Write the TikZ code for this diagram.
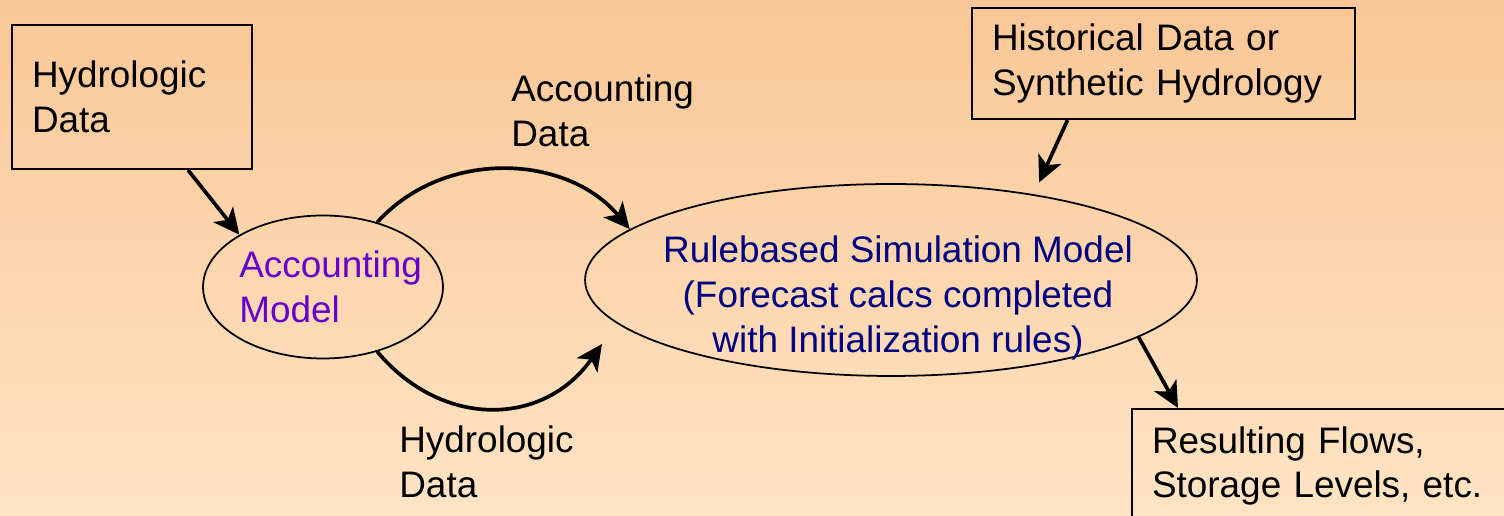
\documentclass[tikz,border=0pt]{standalone}
\usepackage{fontspec}
\setmainfont{Liberation Sans}
\usetikzlibrary{shapes.geometric,arrows.meta,calc}
\definecolor{bgtop}{RGB}{250,199,151}
\definecolor{bgbottom}{RGB}{255,228,196}
\definecolor{accpurple}{RGB}{102,0,204}
\definecolor{simnavy}{RGB}{0,0,128}
\begin{document}
\begin{tikzpicture}[x=0.02cm, y=0.02cm,
		databox/.style={draw, line width=1.2pt, anchor=north west, align=left, inner xsep=0.4cm, inner ysep=0pt, font=\fontsize{21}{25.5}\selectfont},
		model/.style={draw, ellipse, line width=1pt, inner sep=0pt},
		lbl/.style={anchor=west, align=left, inner sep=0pt, font=\fontsize{21}{25.5}\selectfont},
		flow/.style={line width=2.1pt, -{Stealth[length=0.52cm, width=0.5cm, inset=0.14cm]}}]
				\fill[top color=bgtop, bottom color=bgbottom] (0,0) rectangle (1504,516);
				\useasboundingbox (0,0) rectangle (1504,516);
				\clip (0,0) rectangle (1504,516);
				\node[databox, text width=4cm, minimum height=2.88cm] (hyd) at (11,492) {Hydrologic\\Data};
				\node[databox, text width=6.86cm, minimum height=2.22cm] (hist) at (971,509) {Historical Data or\\Synthetic Hydrology};
				\node[databox, text width=7.2cm, minimum height=2.28cm] (res) at (1131,108) {Resulting Flows,\\Storage Levels, etc.};
				\node[model, minimum width=4.8cm, minimum height=2.86cm] (acc) at (323,229) {};
				\node[lbl, text=accpurple] (acctxt) at (239,229) {Accounting\\Model};
				\node[model, minimum width=12.24cm, minimum height=3.84cm] (sim) at (891,236) {};
				\node[align=center, inner sep=0pt, text=simnavy, font=\fontsize{21}{25.5}\selectfont] (simtxt) at (898,218) {Rulebased Simulation Model\\(Forecast calcs completed\\with Initialization rules)};
				\node[lbl] (acclbl) at (511,405) {Accounting\\Data};
				\node[lbl] (hydlbl) at (399,54) {Hydrologic\\Data};
				\coordinate (hydtip) at (602,172);
				\draw[flow] ($(hyd.south)+(56,0)$) -- (acc.148);
				\draw[flow] (acc.50) to[out=48, in=130] (sim.169);
				\draw[flow] (acc.-50) to[out=-50, in=-125, looseness=1.15] (hydtip);
				\draw[flow, shorten >=0.26cm] ($(hist.south)+(-96,0)$) -- (sim.31.6);
				\draw[flow] (sim.-13) -- ($(res.north west)+(47,0)$);
			\end{tikzpicture}
\end{document}
